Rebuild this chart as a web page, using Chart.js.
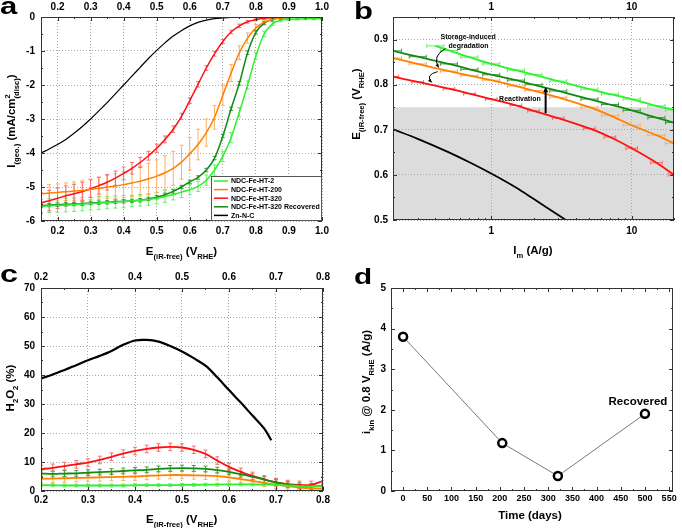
<!DOCTYPE html>
<html><head><meta charset="utf-8">
<script src="https://cdn.jsdelivr.net/npm/chart.js@4.4.1/dist/chart.umd.min.js"></script>
<style>
html,body{margin:0;padding:0;background:#fff}
#wrap{position:relative;width:682px;height:528px;overflow:hidden;background:#fff}
canvas{position:absolute}
</style></head><body>
<div id="wrap">
<canvas id="ca" width="341" height="264" style="left:0;top:0"></canvas>
<canvas id="cb" width="341" height="264" style="left:341px;top:0"></canvas>
<canvas id="cc" width="341" height="264" style="left:0;top:264px"></canvas>
<canvas id="cd" width="341" height="264" style="left:341px;top:264px"></canvas>
</div>
<script>
// ================= DATA =================
// Panel a : polarisation curves
const E_a = [0.15,0.175,0.2,0.225,0.25,0.275,0.3,0.325,0.35,0.375,0.4,0.425,0.45,0.475,0.5,0.525,0.55,0.575,0.6,0.625,0.65,0.675,0.7,0.725,0.75,0.775,0.8,0.825,0.85,0.875,0.9,0.925,0.95,0.975,1.0];
const I_HT2   = [-5.57,-5.55,-5.54,-5.53,-5.52,-5.5,-5.49,-5.47,-5.46,-5.44,-5.43,-5.41,-5.39,-5.37,-5.33,-5.28,-5.22,-5.15,-5.08,-4.98,-4.8,-4.5,-4.1,-3.55,-2.8,-2.0,-1.15,-0.5,-0.2,-0.1,-0.07,-0.06,-0.05,-0.05,-0.05];
const I_HT200 = [-5.2,-5.18,-5.16,-5.14,-5.12,-5.1,-5.07,-5.04,-5.0,-4.97,-4.93,-4.88,-4.83,-4.76,-4.68,-4.58,-4.45,-4.27,-4.02,-3.75,-3.4,-2.95,-2.3,-1.65,-1.05,-0.62,-0.32,-0.15,-0.07,-0.03,-0.01,0,0,0,0];
const I_HT320 = [-5.47,-5.4,-5.33,-5.26,-5.2,-5.13,-5.05,-4.96,-4.86,-4.74,-4.6,-4.45,-4.28,-4.08,-3.86,-3.6,-3.3,-2.92,-2.46,-1.98,-1.5,-1.08,-0.72,-0.44,-0.26,-0.14,-0.08,-0.04,-0.02,-0.01,0,0,0,0,0];
const I_HT320R= [-5.55,-5.53,-5.52,-5.51,-5.5,-5.49,-5.47,-5.46,-5.45,-5.43,-5.42,-5.41,-5.39,-5.35,-5.3,-5.23,-5.13,-5.0,-4.85,-4.72,-4.5,-4.15,-3.5,-2.7,-1.95,-1.05,-0.45,-0.18,-0.07,-0.03,-0.02,-0.01,-0.01,-0.01,-0.01];
const I_ZnNC  = [-4.0,-3.88,-3.75,-3.6,-3.42,-3.22,-3.0,-2.76,-2.52,-2.26,-2.0,-1.74,-1.48,-1.22,-0.98,-0.76,-0.56,-0.4,-0.26,-0.16,-0.09,-0.05,-0.03,-0.015,-0.01,-0.005,0,0,0,0,0,0,0,0,0];
const err_HT2   = [0.2,0.2,0.2,0.2,0.2,0.2,0.19,0.19,0.18,0.18,0.18,0.17,0.17,0.17,0.17,0.17,0.16,0.16,0.15,0.15,0.15,0.15,0.15,0.15,0.14,0.12,0.1,0.08,0.05,0.04,0.03,0.03,0.03,0.03,0.03];
const err_HT200 = [0.25,0.25,0.25,0.26,0.27,0.28,0.3,0.32,0.34,0.36,0.38,0.4,0.43,0.46,0.48,0.5,0.5,0.5,0.48,0.45,0.4,0.35,0.3,0.25,0.2,0.15,0.1,0.06,0.04,0.03,0.02,0.02,0.02,0.02,0.02];
const err_HT320 = [0.3,0.3,0.3,0.29,0.28,0.27,0.26,0.25,0.23,0.21,0.19,0.17,0.15,0.13,0.12,0.1,0.1,0.09,0.08,0.08,0.07,0.07,0.06,0.05,0.05,0.04,0.03,0.03,0.02,0.02,0.02,0.02,0.02,0.02,0.02];
const err_HT320R = 0.05;
const labels_a = ['NDC-Fe-HT-2','NDC-Fe-HT-200','NDC-Fe-HT-320','NDC-Fe-HT-320 Recovered','Zn-N-C'];
const xTicks_a = [0.2,0.3,0.4,0.5,0.6,0.7,0.8,0.9,1.0];
const yTicks_a = [0,-1,-2,-3,-4,-5,-6];

// Panel b : Tafel-type plot (log x)
const Im_HT2   = [0.4,0.5,0.7,1,1.5,2,3,5,7,10,15,20];
const Eb_HT2   = [0.886,0.876,0.861,0.846,0.832,0.822,0.808,0.79,0.779,0.768,0.753,0.744];
const Im_b     = [0.2,0.3,0.5,0.7,1,1.5,2,3,5,7,10,15,20];
const Eb_HT320R= [0.875,0.862,0.846,0.834,0.822,0.81,0.8,0.786,0.768,0.756,0.743,0.727,0.716];
const Eb_HT200 = [0.859,0.846,0.83,0.82,0.81,0.797,0.787,0.772,0.75,0.732,0.71,0.688,0.67];
const Eb_HT320 = [0.818,0.806,0.791,0.78,0.768,0.754,0.742,0.726,0.703,0.684,0.659,0.627,0.6];
const Im_Zn    = [0.2,0.3,0.5,0.7,1,1.5,2,3,3.4];
const Eb_Zn    = [0.701,0.68,0.65,0.628,0.603,0.572,0.547,0.511,0.5];
const xTicks_b = [1,10];
const xMinor_b = [0.2,0.3,0.4,0.5,0.6,0.7,0.8,0.9,2,3,4,5,6,7,8,9,20];
const yTicks_b = [0.5,0.6,0.7,0.8,0.9];

// Panel c : H2O2 yield
const E_c = [0.2,0.225,0.25,0.275,0.3,0.325,0.35,0.375,0.4,0.425,0.45,0.475,0.5,0.525,0.55,0.575,0.6,0.625,0.65,0.675,0.7,0.725,0.75,0.775,0.8];
const H_HT2   = [2.0,2.0,1.9,1.9,1.9,1.9,1.9,1.9,2.0,2.0,2.0,2.0,2.1,2.1,2.2,2.2,2.3,2.3,2.3,2.2,2.1,1.9,1.7,1.6,1.6];
const H_HT200 = [4.2,4.3,4.4,4.5,4.6,4.7,4.8,4.9,5.0,5.2,5.4,5.5,5.5,5.4,5.3,5.1,4.7,4.1,3.5,2.8,2.2,1.7,1.2,0.9,0.8];
const H_HT320 = [7.5,8.0,8.6,9.2,9.8,10.7,11.8,12.9,13.8,14.5,15.0,15.2,15.0,14.2,12.8,10.5,8.3,6.6,5.2,4.0,3.0,2.4,2.1,2.1,3.5];
const H_HT320R= [6.0,5.9,6.0,6.1,6.3,6.5,6.7,6.9,7.1,7.3,7.6,7.8,7.9,7.8,7.6,7.2,6.6,5.8,4.9,3.9,3.0,2.3,1.8,1.6,1.8];
const E_c_Zn  = [0.2,0.225,0.25,0.275,0.3,0.325,0.35,0.375,0.4,0.425,0.45,0.475,0.5,0.525,0.55,0.575,0.6,0.625,0.65,0.675,0.69];
const H_ZnNC  = [38.8,40.2,41.7,43.4,45.1,46.6,48.3,50.4,51.9,52.1,51.5,50.0,48.1,45.8,43.2,39.2,34.8,30.5,26.0,21.5,17.5];
const errc = {HT2:0.5, HT200:1.3, HT320:1.3, HT320R:1.0};
const xTicks_c = [0.2,0.3,0.4,0.5,0.6,0.7,0.8];
const yTicks_c = [0,10,20,30,40,50,60,70];

// Panel d : kinetic current vs time
const days = [0,205,320,500];
const ikin = [3.8,1.18,0.37,1.9];
const xTicks_d = [0,50,100,150,200,250,300,350,400,450,500,550];
const yTicks_d = [0,1,2,3,4,5];

// ================= STYLE / HELPERS =================
const FONT='"Liberation Sans", Arial, Helvetica, sans-serif';
Chart.defaults.font.family=FONT; Chart.defaults.font.weight='bold'; Chart.defaults.font.size=10; Chart.defaults.color='#000';
Chart.defaults.animation=false;
const COL={g:'#2ef02e', dg:'#138a13', o:'#ff8000', r:'#ff1010', k:'#000'};
const ECOL={g:'#66f066', dg:'#3f9f3f', o:'#ffb060', r:'#ff6a6a'};
const pts=(xs,ys)=>xs.map((x,i)=>({x,y:ys[i]}));
const mid=a=>a.slice(1).map((v,i)=>(v+a[i])/2);
const f1=v=>Number(v).toFixed(1);
const fi=v=>String(v);

function axis(type,pos,min,max,ticks,fmt,size,pad,grid,fs){
  return {type,position:pos,min,max,display:true,
    afterBuildTicks:s=>{s.ticks=ticks.map(v=>({value:v}));},
    afterFit:s=>{ if(pos==='left'||pos==='right') s.width=size; else s.height=size; },
    ticks:{callback:fmt,padding:pad,autoSkip:false,maxRotation:0,minRotation:0,font:{size:fs||10,weight:'bold'},color:'#000'},
    grid:{display:grid,color:'#a8a8a8',lineWidth:1,drawTicks:false},
    border:{display:false,dash:[1,2]}
  };
}

function drawRich(ctx,parts,x,y,rot,size){
  ctx.save(); ctx.translate(x,y); if(rot) ctx.rotate(-Math.PI/2);
  const fN=`bold ${size}px ${FONT}`, fS=`bold ${(size*0.66).toFixed(1)}px ${FONT}`;
  let w=0; parts.forEach(p=>{ctx.font=p[1]?fS:fN; if(!p[2]) w+=ctx.measureText(p[0]).width;});
  let cx=-w/2; ctx.textAlign='left'; ctx.textBaseline='alphabetic'; ctx.fillStyle='#000';
  parts.forEach(p=>{ctx.font=p[1]?fS:fN; const dy=p[1]===1?size*0.3:p[1]===2?-size*0.42:0;
    ctx.fillText(p[0],cx,size*0.36+dy); if(!p[2]) cx+=ctx.measureText(p[0]).width;});
  ctx.restore();
}

const errPlugin={id:'errbars',beforeDatasetsDraw(chart){
  const ctx=chart.ctx, ca=chart.chartArea;
  ctx.save(); ctx.beginPath(); ctx.rect(ca.left,ca.top,ca.right-ca.left,ca.bottom-ca.top); ctx.clip();
  chart.data.datasets.forEach((ds,i)=>{
    if(ds.yErr==null && ds.xErr==null) return;
    const meta=chart.getDatasetMeta(i), xs=chart.scales[meta.xAxisID], ys=chart.scales[meta.yAxisID];
    ctx.strokeStyle=ds.errColor; ctx.lineWidth=1; ctx.beginPath();
    ds.data.forEach((p,j)=>{
      const px=xs.getPixelForValue(p.x), py=ys.getPixelForValue(p.y);
      if(ds.yErr!=null){const e=Array.isArray(ds.yErr)?ds.yErr[j]:ds.yErr;
        const y1=ys.getPixelForValue(p.y+e), y2=ys.getPixelForValue(p.y-e);
        ctx.moveTo(px,y1);ctx.lineTo(px,y2);ctx.moveTo(px-2,y1);ctx.lineTo(px+2,y1);ctx.moveTo(px-2,y2);ctx.lineTo(px+2,y2);}
      if(ds.xErr!=null){const f=ds.xErr;
        const x1=xs.getPixelForValue(p.x/(1+f)), x2=xs.getPixelForValue(p.x*(1+f));
        ctx.moveTo(x1,py);ctx.lineTo(x2,py);ctx.moveTo(x1,py-2);ctx.lineTo(x1,py+2);ctx.moveTo(x2,py-2);ctx.lineTo(x2,py+2);}
    });
    ctx.stroke();
  });
  ctx.restore();
}};

const framePlugin={id:'frame',afterDatasetsDraw(chart,args,o){
  const ctx=chart.ctx, ca=chart.chartArea, xs=chart.scales.x, ys=chart.scales.y;
  ctx.save(); ctx.strokeStyle='#333'; ctx.lineWidth=1; ctx.beginPath();
  const tx=(v,l)=>{const p=Math.round(xs.getPixelForValue(v))+0.5; ctx.moveTo(p,ca.bottom);ctx.lineTo(p,ca.bottom-l);ctx.moveTo(p,ca.top);ctx.lineTo(p,ca.top+l);};
  const ty=(v,l)=>{const p=Math.round(ys.getPixelForValue(v))+0.5; ctx.moveTo(ca.left,p);ctx.lineTo(ca.left+l,p);ctx.moveTo(ca.right,p);ctx.lineTo(ca.right-l,p);};
  (o.xMajor||[]).forEach(v=>tx(v,4)); (o.xMinor||[]).forEach(v=>tx(v,2));
  (o.yMajor||[]).forEach(v=>ty(v,4)); (o.yMinor||[]).forEach(v=>ty(v,2));
  ctx.stroke();
  ctx.strokeRect(Math.round(ca.left)+0.5,Math.round(ca.top)+0.5,Math.round(ca.right-ca.left)-1,Math.round(ca.bottom-ca.top)-1);
  ctx.restore();
}};

const decoPlugin={id:'deco',afterDraw(chart,args,o){
  const ctx=chart.ctx;
  if(o.letter){ctx.save(); ctx.font=`bold ${o.letter.size}px ${FONT}`; ctx.fillStyle='#000'; ctx.textBaseline='alphabetic';
    ctx.translate(o.letter.x,o.letter.y); ctx.scale(1.35,1); ctx.fillText(o.letter.t,0,0); ctx.restore();}
  if(o.xTitle) drawRich(ctx,o.xTitle.parts,o.xTitle.x,o.xTitle.y,false,11.5);
  if(o.yTitle) drawRich(ctx,o.yTitle.parts,o.yTitle.x,o.yTitle.y,true,11.5);
  if(o.legend){
    const ca=chart.chartArea, w=111, h=45, l=ca.right-w, t=ca.bottom-h;
    ctx.save(); ctx.fillStyle='#fff'; ctx.fillRect(l,t,w,h); ctx.strokeStyle='#555'; ctx.lineWidth=1;
    ctx.strokeRect(Math.round(l)+0.5,Math.round(t)+0.5,w-1,h-1);
    ctx.font=`bold 7px ${FONT}`; ctx.textBaseline='middle'; ctx.fillStyle='#000';
    o.legend.forEach((it,i)=>{const y=t+5+i*8.6; ctx.strokeStyle=it.c; ctx.lineWidth=1.5;
      ctx.beginPath(); ctx.moveTo(l+3,y); ctx.lineTo(l+17,y); ctx.stroke(); ctx.fillText(it.t,l+20,y+0.5);});
    ctx.restore();
  }
}};

const E_title=[['E',0],['(iR-free)',1],[' (V',0],['RHE',1],[')',0]];

function lineDS(label,data,color,extra){return Object.assign({label,data,borderColor:color,backgroundColor:color,borderWidth:1.5,pointRadius:0,tension:0.35,fill:false},extra||{});}

// ================= PANEL A =================
new Chart(document.getElementById('ca'),{type:'line',
  data:{datasets:[
    lineDS(labels_a[0],pts(E_a,I_HT2),COL.g,{yErr:err_HT2,errColor:ECOL.g}),
    lineDS(labels_a[1],pts(E_a,I_HT200),COL.o,{yErr:err_HT200,errColor:ECOL.o}),
    lineDS(labels_a[2],pts(E_a,I_HT320),COL.r,{yErr:err_HT320,errColor:ECOL.r}),
    lineDS(labels_a[3],pts(E_a,I_HT320R),COL.dg,{yErr:err_HT320R,errColor:ECOL.dg}),
    lineDS(labels_a[4],pts(E_a,I_ZnNC),COL.k,{borderWidth:1.2})]},
  options:{responsive:false,animation:false,layout:{padding:{left:0,right:19,top:0,bottom:0}},
    plugins:{legend:{display:false},tooltip:{enabled:false},
      frame:{xMajor:xTicks_a,xMinor:mid(xTicks_a),yMajor:yTicks_a,yMinor:mid(yTicks_a)},
      deco:{letter:{t:'a',x:0,y:14,size:23},xTitle:{parts:E_title,x:181.5,y:251},
        yTitle:{parts:[['I',0],['(geo.)',1],[' (mA/cm',0],['2',2,true],['(disc)',1],[')',0]],x:11,y:121},
        legend:[{t:labels_a[0],c:COL.g},{t:labels_a[1],c:COL.o},{t:labels_a[2],c:COL.r},{t:labels_a[3],c:COL.dg},{t:labels_a[4],c:COL.k}]}},
    scales:{
      x:axis('linear','bottom',0.15,1.0,xTicks_a,f1,43,4,true),
      x2:axis('linear','top',0.15,1.0,xTicks_a,f1,17,4,false),
      y:axis('linear','left',-6,0,yTicks_a,fi,41,6,true)}},
  plugins:[errPlugin,framePlugin,decoPlugin]});

// ================= PANEL B =================
const shadeB={id:'shadeB',beforeDraw(chart){
  const ctx=chart.ctx, ca=chart.chartArea, ys=chart.scales.y; const y=ys.getPixelForValue(0.75);
  ctx.save(); ctx.fillStyle='#dcdcdc'; ctx.fillRect(ca.left,y,ca.right-ca.left,ca.bottom-y); ctx.restore();}};
function arrowHead(ctx,x0,y0,x1,y1,s){const a=Math.atan2(y1-y0,x1-x0);ctx.beginPath();ctx.moveTo(x1,y1);
  ctx.lineTo(x1-s*Math.cos(a-0.45),y1-s*Math.sin(a-0.45));ctx.lineTo(x1-s*Math.cos(a+0.45),y1-s*Math.sin(a+0.45));ctx.closePath();ctx.fill();}
const annB={id:'annB',afterDatasetsDraw(chart){
  const ctx=chart.ctx, xs=chart.scales.x, ys=chart.scales.y;
  const P=(x,y)=>[xs.getPixelForValue(x),ys.getPixelForValue(y)];
  ctx.save(); ctx.fillStyle='#000'; ctx.strokeStyle='#000'; ctx.font=`bold 7px ${FONT}`; ctx.textAlign='center'; ctx.textBaseline='middle';
  let p=P(0.685,0.905); ctx.fillText('Storage-induced',p[0],p[1]);
  p=P(0.69,0.885); ctx.fillText('degradation',p[0],p[1]);
  p=P(1.6,0.768); ctx.fillText('Reactivation',p[0],p[1]);
  ctx.lineWidth=1;
  [[0.473,0.880,0.423,0.838],[0.416,0.829,0.377,0.805]].forEach(a=>{
    const s=P(a[0],a[1]), e=P(a[2],a[3]); const c=[Math.min(s[0],e[0])-7,(s[1]+e[1])/2-2];
    ctx.beginPath(); ctx.moveTo(s[0],s[1]); ctx.quadraticCurveTo(c[0],c[1],e[0],e[1]); ctx.stroke(); arrowHead(ctx,c[0],c[1],e[0],e[1],4);});
  const s=P(2.44,0.737), e=P(2.44,0.795); ctx.lineWidth=2; ctx.beginPath(); ctx.moveTo(s[0],s[1]); ctx.lineTo(e[0],e[1]+5); ctx.stroke(); arrowHead(ctx,s[0],s[1],e[0],e[1],6);
  ctx.restore();}};
new Chart(document.getElementById('cb'),{type:'line',
  data:{datasets:[
    lineDS('NDC-Fe-HT-2',pts(Im_HT2,Eb_HT2),COL.g,{borderWidth:1.8,xErr:0.15,errColor:ECOL.g}),
    lineDS('NDC-Fe-HT-320 Recovered',pts(Im_b,Eb_HT320R),COL.dg,{borderWidth:1.8,xErr:0.15,errColor:ECOL.dg}),
    lineDS('NDC-Fe-HT-200',pts(Im_b,Eb_HT200),COL.o,{borderWidth:1.8,xErr:0.15,errColor:ECOL.o}),
    lineDS('NDC-Fe-HT-320',pts(Im_b,Eb_HT320),COL.r,{borderWidth:1.8,xErr:0.1,errColor:ECOL.r}),
    lineDS('Zn-N-C',pts(Im_Zn,Eb_Zn),COL.k,{borderWidth:1.8})]},
  options:{responsive:false,animation:false,layout:{padding:{left:0,right:8,top:0,bottom:0}},
    plugins:{legend:{display:false},tooltip:{enabled:false},
      frame:{xMajor:xTicks_b,xMinor:xMinor_b,yMajor:yTicks_b,yMinor:mid(yTicks_b).concat([0.95])},
      deco:{letter:{t:'b',x:13,y:18.5,size:23},xTitle:{parts:[['I',0],['m',1],[' (A/g)',0]],x:192,y:250},
        yTitle:{parts:E_title,x:15,y:104}}},
    scales:{
      x:axis('logarithmic','bottom',0.2,20,xTicks_b,fi,44,5,true),
      x2:axis('logarithmic','top',0.2,20,xTicks_b,fi,17,4,false),
      y:axis('linear','left',0.5,0.95,yTicks_b,f1,52,5,true)}},
  plugins:[shadeB,errPlugin,framePlugin,annB,decoPlugin]});

// ================= PANEL C =================
new Chart(document.getElementById('cc'),{type:'line',
  data:{datasets:[
    lineDS('NDC-Fe-HT-2',pts(E_c,H_HT2),COL.g,{yErr:errc.HT2,errColor:ECOL.g,borderWidth:1.8}),
    lineDS('NDC-Fe-HT-200',pts(E_c,H_HT200),COL.o,{yErr:errc.HT200,errColor:ECOL.o,borderWidth:1.8}),
    lineDS('NDC-Fe-HT-320 Recovered',pts(E_c,H_HT320R),COL.dg,{yErr:errc.HT320R,errColor:ECOL.dg,borderWidth:1.8}),
    lineDS('NDC-Fe-HT-320',pts(E_c,H_HT320),COL.r,{yErr:errc.HT320,errColor:ECOL.r,borderWidth:1.8}),
    lineDS('Zn-N-C',pts(E_c_Zn,H_ZnNC),COL.k,{borderWidth:2.2})]},
  options:{responsive:false,animation:false,layout:{padding:{left:0,right:18,top:0,bottom:0}},
    plugins:{legend:{display:false},tooltip:{enabled:false},
      frame:{xMajor:xTicks_c,xMinor:mid(xTicks_c),yMajor:yTicks_c,yMinor:mid(yTicks_c)},
      deco:{letter:{t:'c',x:0,y:18,size:24},xTitle:{parts:E_title,x:181.7,y:255},
        yTitle:{parts:[['H',0],['2',1],['O',0],['2',1],[' (%)',0]],x:10,y:124}}},
    scales:{
      x:axis('linear','bottom',0.2,0.8,xTicks_c,f1,37,3,true),
      x2:axis('linear','top',0.2,0.8,xTicks_c,f1,24,5,false),
      y:axis('linear','left',0,70,yTicks_c,fi,41,6,true)}},
  plugins:[errPlugin,framePlugin,decoPlugin]});

// ================= PANEL D =================
const annD={id:'annD',afterDatasetsDraw(chart){
  const ctx=chart.ctx, xs=chart.scales.x, ys=chart.scales.y;
  const x=xs.getPixelForValue(days[3])-7, y=ys.getPixelForValue(ikin[3])-12;
  ctx.save(); ctx.font=`bold 11.5px ${FONT}`; ctx.textAlign='center'; ctx.textBaseline='middle'; ctx.fillStyle='#000';
  ctx.fillText('Recovered',x,y); ctx.restore();}};
new Chart(document.getElementById('cd'),{type:'line',
  data:{datasets:[{label:'i_kin',data:pts(days,ikin),borderColor:'#777',borderWidth:1,tension:0,
    pointRadius:4,pointBorderWidth:2.5,pointBackgroundColor:'#fff',pointBorderColor:'#000'}]},
  options:{responsive:false,animation:false,layout:{padding:{left:0,right:9,top:24,bottom:0}},
    plugins:{legend:{display:false},tooltip:{enabled:false},
      frame:{xMajor:xTicks_d,xMinor:mid(xTicks_d),yMajor:yTicks_d,yMinor:mid(yTicks_d)},
      deco:{letter:{t:'d',x:13,y:20,size:22},xTitle:{parts:[['Time (days)',0]],x:189,y:251},
        yTitle:{parts:[['i',0],['kin',1],[' @ 0.8 V',0],['RHE',1],[' (A/g)',0]],x:25,y:118}}},
    scales:{
      x:axis('linear','bottom',-25,558,xTicks_d,fi,37,2,false,9),
      y:axis('linear','left',0,5,yTicks_d,fi,50,5,false)}},
  plugins:[framePlugin,annD,decoPlugin]});
</script>
</body></html>
